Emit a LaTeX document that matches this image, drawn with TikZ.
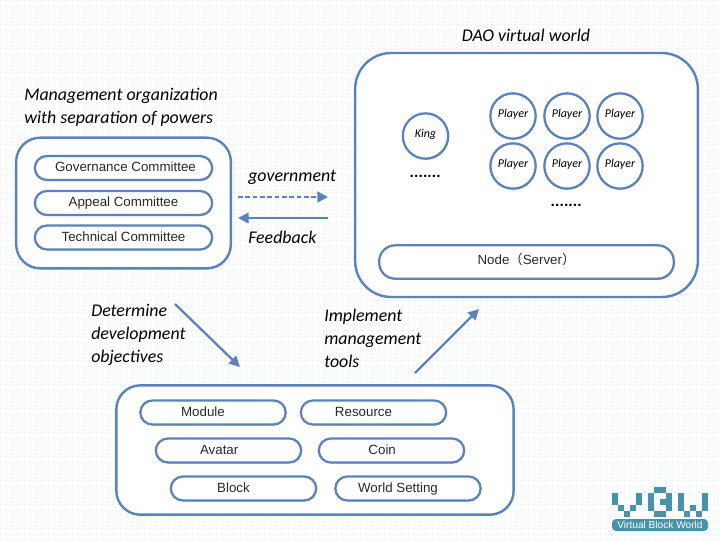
\documentclass[tikz,border=0pt]{standalone}
\usepackage{fontspec}
\setmainfont{Liberation Sans}
\newfontfamily\labelfont{Carlito}
\newfontfamily\cjkfont{Noto Sans CJK JP}
\usetikzlibrary{arrows.meta,positioning,shadows}
\definecolor{vbblue}{RGB}{91,130,186}
\definecolor{vbteal}{RGB}{72,146,172}
\definecolor{vbgrid}{RGB}{244,247,248}
\definecolor{vbtext}{RGB}{40,40,40}
\tikzset{
  softshadow/.style={drop shadow={shadow xshift=0.5pt, shadow yshift=-0.8pt, opacity=0.22, fill=black}},
  groupbox/.style={draw=vbblue, line width=1.8pt, fill=white, rounded corners=18pt, softshadow},
  itembox/.style={draw=vbblue, line width=1.7pt, fill=white, rounded corners=9pt, minimum width=109pt, minimum height=18pt, inner sep=0pt, font=\fontsize{10}{11}\selectfont, text=vbtext, text height=7.2pt, text depth=1.4pt, softshadow},
  person/.style={draw=vbblue, line width=1.7pt, fill=white, circle, minimum size=34pt, inner sep=0pt, font=\labelfont\itshape\fontsize{9}{10}\selectfont, text height=6pt, text depth=3.4pt, softshadow},
  caption/.style={font=\labelfont\itshape\fontsize{13.4}{17.3}\selectfont, align=left, anchor=west, inner sep=0pt},
  dotrow/.style={font=\labelfont\itshape\bfseries\fontsize{12.5}{14}\selectfont, inner sep=0pt},
  flow/.style={-{Triangle[length=8pt,width=8pt]}, line width=1.7pt, vbblue},
  pixel/.style={fill=vbteal, draw=none},
}
\begin{document}
\begin{tikzpicture}[x=0.75pt, y=-0.75pt]
  \useasboundingbox (0,0) rectangle (720,540);
  \fill[white] (0,0) rectangle (720,540);
  \draw[vbgrid, line width=0.3pt, step=4.5pt] (0,0) grid (720,540);

  % Management organization
  \node[groupbox, minimum width=161pt, minimum height=98pt] (mgmt) at (123.5,203) {};
  \node[itembox, minimum width=133pt] (governance) at (123.5,168) {\hspace*{3pt}Governance Committee};
  \node[itembox, minimum width=133pt] (appeal) at (123.5,203) {Appeal Committee};
  \node[itembox, minimum width=133pt] (technical) at (123.5,237.5) {Technical Committee};
  \node[caption] (mgmttitle) at (24,107) {Management organization\\with separation of powers};

  % DAO virtual world
  \node[groupbox, minimum width=257pt, minimum height=183pt, rounded corners=27pt] (dao) at (526.5,175) {};
  \node[font=\labelfont\itshape\fontsize{13.4}{15}\selectfont, inner sep=0pt] (daotitle) at (526,35) {DAO virtual world};
  \node[person] (king) at (425.5,136) {King};
  \node[dotrow] (kingdots) at (425.5,176) {.......};
  \foreach \name/\px/\py in {pa/513/116, pb/567/116, pc/620/116, pd/513/166, pe/567/166, pf/620/166}
    \node[person] (\name) at (\px,\py) {Player};
  \node[dotrow] (playerdots) at (566.5,205) {.......};
  \node[itembox, minimum width=221pt, minimum height=25pt, rounded corners=12pt, text depth=4pt] (server) at (526.5,262) {Node{\cjkfont（}Server{\cjkfont）}};

  % Tools
  \node[groupbox, minimum width=298pt, minimum height=97pt] (tools) at (315,450) {};
  \node[itembox] (module) at (213,412.5) {Module\hspace*{15pt}};
  \node[itembox] (resource) at (373.5,412.5) {Resource\hspace*{15pt}};
  \node[itembox] (avatar) at (228.5,450.5) {Avatar\hspace*{14pt}};
  \node[itembox] (coin) at (391.5,450.5) {Coin\hspace*{14pt}};
  \node[itembox] (block) at (243.5,488.5) {Block\hspace*{15pt}};
  \node[itembox] (world) at (408,488.5) {World Setting\hspace*{15pt}};

  % Arrow ends
  \coordinate (govstart) at (238,197);
  \coordinate (govend) at (328,197);
  \coordinate (fbstart) at (328,218);
  \coordinate (fbend) at (238,218);
  \coordinate (objstart) at (175,304);
  \coordinate (objend) at (240,367);
  \coordinate (implstart) at (415,373);
  \coordinate (implend) at (479,309);

  % Arrows
  \draw[flow, line width=2.2pt, dash pattern=on 3.5pt off 2pt] (govstart) -- (govend);
  \draw[flow] (fbstart) -- (fbend);
  \draw[flow] (objstart) -- (objend);
  \draw[flow] (implstart) -- (implend);

  \node[caption] (govlabel) at (248,177) {government};
  \node[caption] (fblabel) at (248,237) {Feedback};
  \node[caption] (objlabel) at (91,335) {Determine\\development\\objectives};
  \node[caption] (impllabel) at (324,338) {Implement\\management\\tools};

  % Logo
  \foreach \cx/\cy in {612/493,612/499,636/493,636/499,618/505,630/505,624/511,
                       678/493,678/499,678/505,702/493,702/499,702/505,690/505,684/511,696/511}
    \fill[pixel] (\cx,\cy) rectangle ++(5.5,5.5);
  \foreach \cx/\cy in {654/487,660/487,648/493,666/493,648/499,660/499,666/499,648/505,666/505,654/511,660/511}
    \fill[pixel] (\cx,\cy) rectangle ++(5.5,5.5);
  \node[fill=vbteal, rounded corners=3pt, minimum width=72pt, minimum height=9pt, inner sep=0pt, text=white, font=\fontsize{7.6}{8}\selectfont] (logobar) at (660,525) {Virtual Block World};
\end{tikzpicture}
\end{document}
